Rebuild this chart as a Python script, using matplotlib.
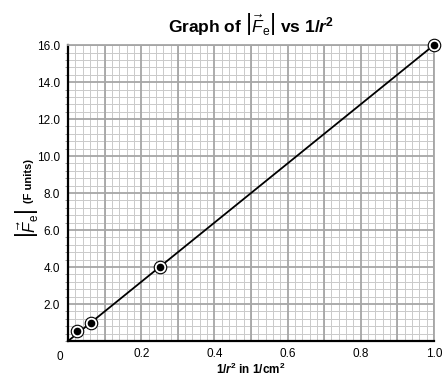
import numpy as np
import matplotlib
matplotlib.use('Agg')
import matplotlib.pyplot as plt
from matplotlib.ticker import MultipleLocator

plt.rcParams['font.family'] = ['Liberation Sans', 'DejaVu Sans']
plt.rcParams['mathtext.fontset'] = 'custom'
plt.rcParams['mathtext.rm'] = 'Liberation Sans'
plt.rcParams['mathtext.it'] = 'Liberation Sans:italic'
plt.rcParams['mathtext.bf'] = 'Liberation Sans:bold'
plt.rcParams['mathtext.bfit'] = 'Liberation Sans:bold:italic'

# measured points: 1/r^2 (1/cm^2) vs |Fe| (F units)
inv_r2 = [0.025, 0.0625, 0.25, 1.0]
force = [0.55, 1.0, 4.0, 16.0]

# best-fit line
fit_x = [0.0, 1.0]
fit_y = [0.0, 16.0]

x_ticks = [0.2, 0.4, 0.6, 0.8, 1.0]
x_labels = ['0.2', '0.4', '0.6', '0.8', '1.0']
y_ticks = [2, 4, 6, 8, 10, 12, 14, 16]
y_labels = ['2.0', '4.0', '6.0', '8.0', '10.0', '12.0', '14.0', '16.0']

fig = plt.figure(figsize=(4.45, 3.76), dpi=100)
ax = fig.add_axes([0.153, 0.093, 0.822, 0.787])

ax.set_xlim(0, 1.0)
ax.set_ylim(0, 16.0)

# graph-paper grid
ax.xaxis.set_minor_locator(MultipleLocator(0.02))
ax.yaxis.set_minor_locator(MultipleLocator(0.4))
ax.set_xticks(x_ticks)
ax.set_xticklabels(x_labels)
ax.set_yticks(y_ticks)
ax.set_yticklabels(y_labels)
for v in np.arange(0.1, 1.01, 0.1):
    ax.axvline(v, color='#a6a6a6', lw=1.3, zorder=1)
for v in np.arange(2, 16.1, 2):
    ax.axhline(v, color='#a6a6a6', lw=1.3, zorder=1)
ax.grid(which='minor', color='#cacaca', lw=0.7, zorder=0)
ax.set_axisbelow(True)

ax.tick_params(which='both', length=0, labelsize=8.5)
ax.tick_params(axis='x', pad=5)
ax.tick_params(axis='y', pad=6)
ax.tick_params(axis='y', which='minor', length=2, direction='out', color='#888888')
ax.text(-0.022, -0.55, '0', ha='center', va='top', fontsize=8.5)

for s in ['top', 'right']:
    ax.spines[s].set_color('#a6a6a6')
    ax.spines[s].set_linewidth(1.3)
for s in ['left', 'bottom']:
    ax.spines[s].set_color('black')
    ax.spines[s].set_linewidth(1.6)

ax.plot(fit_x, fit_y, color='black', lw=1.3, zorder=3, clip_on=False)
ax.plot(inv_r2, force, 'o', ms=9, mfc='white', mec='black', mew=0.8,
        zorder=4, clip_on=False)
ax.plot(inv_r2, force, 'o', ms=4.5, color='black', zorder=5, clip_on=False)

ax.set_title(r'Graph of $\left|\vec{F}_{\mathrm{e}}\right|$ vs 1/$\mathbfit{r}^{\mathbf{2}}$',
             fontsize=12.5, fontweight='bold', pad=9)
ax.set_xlabel(r'1/$\mathbfit{r}^{\mathbf{2}}$ in 1/cm$^{\mathbf{2}}$', fontsize=8.5,
              fontweight='bold', labelpad=1)

# y label in two parts: large |Fe| and small "(F units)"
fig.text(27 / 445, 1 - 224 / 376, r'$\left|\vec{F}_{\mathrm{e}}\right|$',
         rotation=90, ha='center', va='center', fontsize=12)
fig.text(29 / 445, 1 - 181 / 376, '(F units)', rotation=90, ha='center',
         va='center', fontsize=8, fontweight='bold')

fig.savefig('out.png', dpi=100)
